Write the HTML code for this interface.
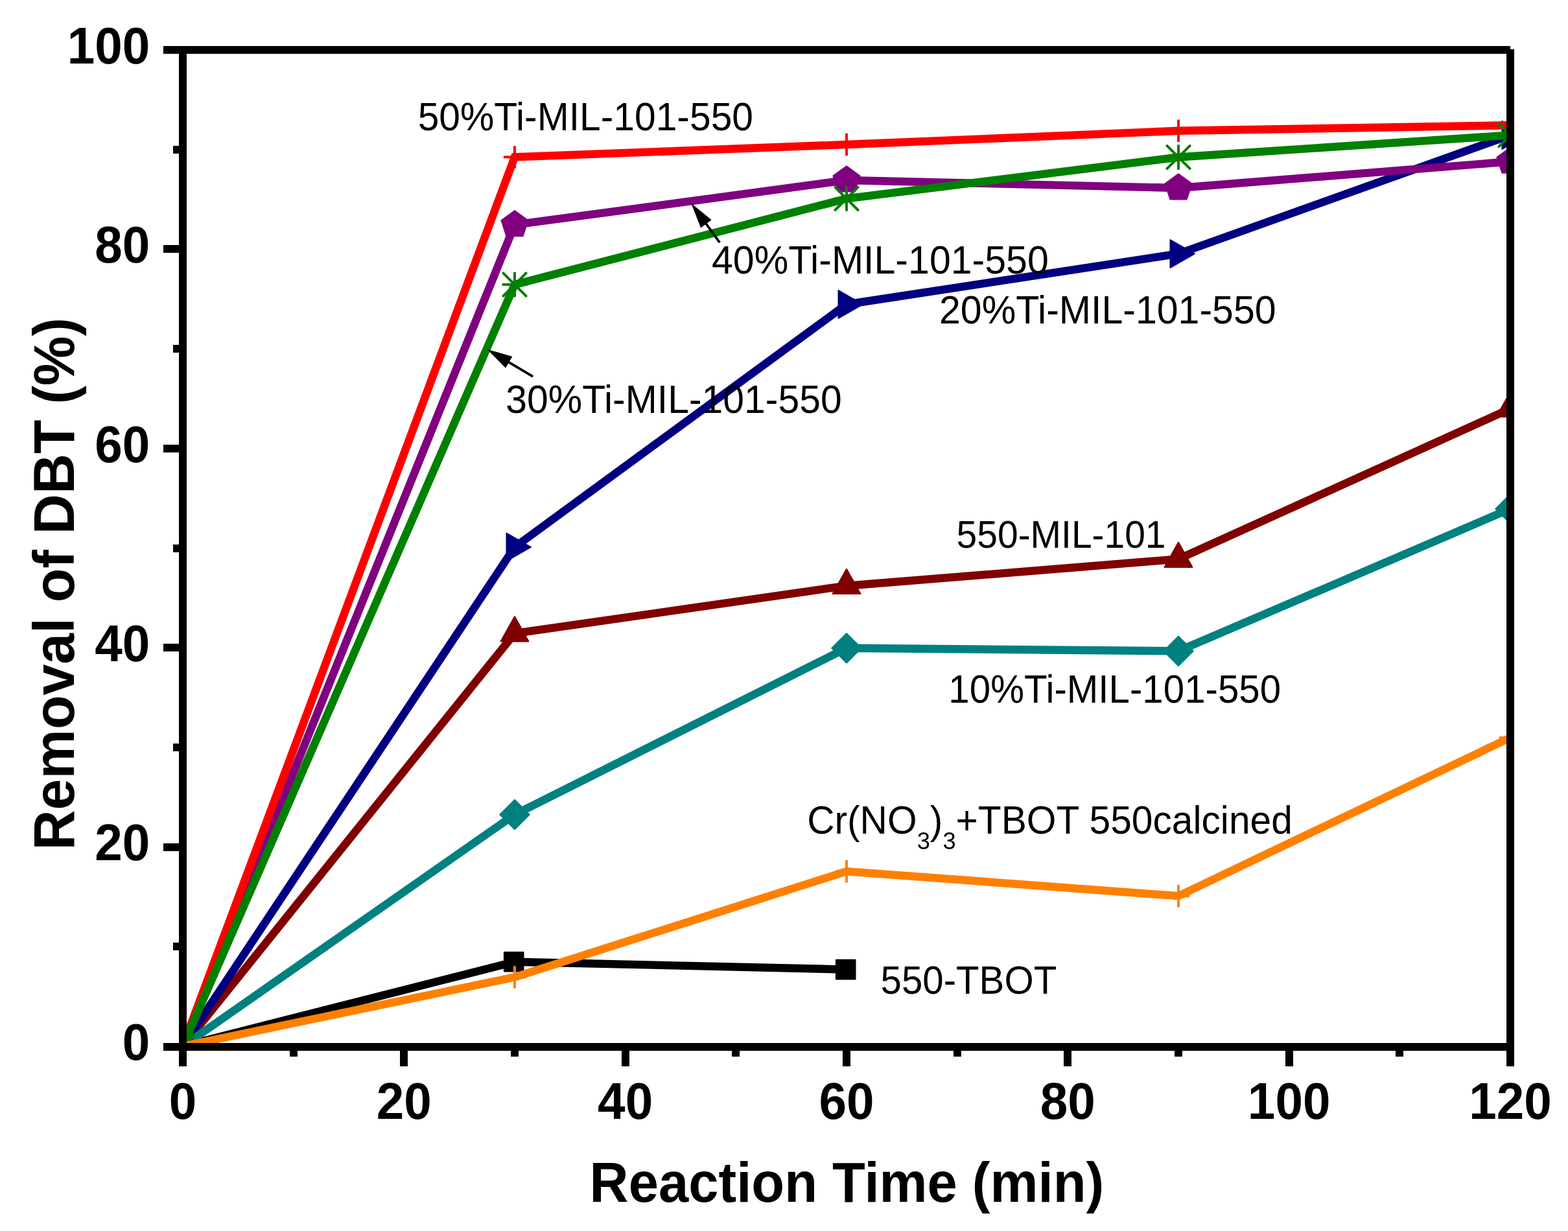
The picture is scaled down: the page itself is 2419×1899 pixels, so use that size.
<!DOCTYPE html><html><head><meta charset="utf-8"><style>html,body{margin:0;padding:0;background:#fff;}svg{display:block;}text{font-family:"Liberation Sans",Arial,sans-serif;}</style></head><body>
<svg width="2419" height="1899" viewBox="0 0 2419 1899">
<rect width="2419" height="1899" fill="#fff"/>
<defs><clipPath id="pa"><rect x="282" y="77" width="2048" height="1538"/></clipPath></defs>
<g clip-path="url(#pa)">
<path d="M282 1614 L794 1483.7 L1306 1495.6" stroke="#000000" stroke-width="12.4" fill="none" stroke-linejoin="miter" stroke-miterlimit="3"/>
<rect x="265.9" y="1599.2" width="29.6" height="29.6" fill="#000000" stroke="#000000" stroke-width="2" stroke-linejoin="round"/>
<rect x="777.9" y="1468.9" width="29.6" height="29.6" fill="#000000" stroke="#000000" stroke-width="2" stroke-linejoin="round"/>
<rect x="1289.9" y="1480.8" width="29.6" height="29.6" fill="#000000" stroke="#000000" stroke-width="2" stroke-linejoin="round"/>
<path d="M282 1614 L794 977 L1306 903.7 L1818 862.5 L2330 630.5" stroke="#800000" stroke-width="12.4" fill="none" stroke-linejoin="miter" stroke-miterlimit="3"/>
<polygon points="282,1588 260.5,1626.4 303.5,1626.4" fill="#800000" stroke="#800000" stroke-width="2" stroke-linejoin="round"/>
<polygon points="794,951 772.5,989.4 815.5,989.4" fill="#800000" stroke="#800000" stroke-width="2" stroke-linejoin="round"/>
<polygon points="1306,877.7 1284.5,916.1 1327.5,916.1" fill="#800000" stroke="#800000" stroke-width="2" stroke-linejoin="round"/>
<polygon points="1818,836.5 1796.5,874.9 1839.5,874.9" fill="#800000" stroke="#800000" stroke-width="2" stroke-linejoin="round"/>
<polygon points="2330,604.5 2308.5,642.9 2351.5,642.9" fill="#800000" stroke="#800000" stroke-width="2" stroke-linejoin="round"/>
<path d="M282 1614 L794 844 L1306 469.5 L1818 391.5 L2330 208.4" stroke="#000080" stroke-width="12.4" fill="none" stroke-linejoin="miter" stroke-miterlimit="3"/>
<polygon points="269.5,1592.5 269.5,1635.5 307,1614" fill="#000080" stroke="#000080" stroke-width="2" stroke-linejoin="round"/>
<polygon points="781.5,822.5 781.5,865.5 819,844" fill="#000080" stroke="#000080" stroke-width="2" stroke-linejoin="round"/>
<polygon points="1293.5,448 1293.5,491 1331,469.5" fill="#000080" stroke="#000080" stroke-width="2" stroke-linejoin="round"/>
<polygon points="1805.5,370 1805.5,413 1843,391.5" fill="#000080" stroke="#000080" stroke-width="2" stroke-linejoin="round"/>
<polygon points="2317.5,186.9 2317.5,229.9 2355,208.4" fill="#000080" stroke="#000080" stroke-width="2" stroke-linejoin="round"/>
<path d="M282 1614 L794 1256.6 L1306 999.8 L1818 1004.3 L2330 785" stroke="#008080" stroke-width="12.4" fill="none" stroke-linejoin="miter" stroke-miterlimit="3"/>
<polygon points="282,1591.5 304.5,1614 282,1636.5 259.5,1614" fill="#008080" stroke="#008080" stroke-width="2.4" stroke-linejoin="round"/>
<polygon points="794,1234.1 816.5,1256.6 794,1279.1 771.5,1256.6" fill="#008080" stroke="#008080" stroke-width="2.4" stroke-linejoin="round"/>
<polygon points="1306,977.3 1328.5,999.8 1306,1022.3 1283.5,999.8" fill="#008080" stroke="#008080" stroke-width="2.4" stroke-linejoin="round"/>
<polygon points="1818,981.8 1840.5,1004.3 1818,1026.8 1795.5,1004.3" fill="#008080" stroke="#008080" stroke-width="2.4" stroke-linejoin="round"/>
<polygon points="2330,762.5 2352.5,785 2330,807.5 2307.5,785" fill="#008080" stroke="#008080" stroke-width="2.4" stroke-linejoin="round"/>
<path d="M282 1614 L794 346.7 L1306 278 L1818 290 L2330 249.3" stroke="#800080" stroke-width="12.4" fill="none" stroke-linejoin="miter" stroke-miterlimit="3"/>
<polygon points="282,1592.4 302.54,1607.33 294.7,1631.47 269.3,1631.47 261.46,1607.33" fill="#800080" stroke="#800080" stroke-width="2" stroke-linejoin="round"/>
<polygon points="794,325.1 814.54,340.03 806.7,364.17 781.3,364.17 773.46,340.03" fill="#800080" stroke="#800080" stroke-width="2" stroke-linejoin="round"/>
<polygon points="1306,256.4 1326.54,271.33 1318.7,295.47 1293.3,295.47 1285.46,271.33" fill="#800080" stroke="#800080" stroke-width="2" stroke-linejoin="round"/>
<polygon points="1818,268.4 1838.54,283.33 1830.7,307.47 1805.3,307.47 1797.46,283.33" fill="#800080" stroke="#800080" stroke-width="2" stroke-linejoin="round"/>
<polygon points="2330,227.7 2350.54,242.63 2342.7,266.77 2317.3,266.77 2309.46,242.63" fill="#800080" stroke="#800080" stroke-width="2" stroke-linejoin="round"/>
<path d="M282 1614 L794 242.3 L1306 223 L1818 201.8 L2330 193.3" stroke="#FF0000" stroke-width="12.4" fill="none" stroke-linejoin="miter" stroke-miterlimit="3"/>
<rect x="280" y="1596.8" width="4" height="34.4" fill="#FF0000"/><rect x="264.8" y="1612" width="34.4" height="4" fill="#FF0000"/>
<rect x="792" y="225.1" width="4" height="34.4" fill="#FF0000"/><rect x="776.8" y="240.3" width="34.4" height="4" fill="#FF0000"/>
<rect x="1304" y="205.8" width="4" height="34.4" fill="#FF0000"/><rect x="1288.8" y="221" width="34.4" height="4" fill="#FF0000"/>
<rect x="1816" y="184.6" width="4" height="34.4" fill="#FF0000"/><rect x="1800.8" y="199.8" width="34.4" height="4" fill="#FF0000"/>
<rect x="2328" y="176.1" width="4" height="34.4" fill="#FF0000"/><rect x="2312.8" y="191.3" width="34.4" height="4" fill="#FF0000"/>
<path d="M282 1614 L794 439 L1306 306.4 L1818 242.5 L2330 208.5" stroke="#008000" stroke-width="12.4" fill="none" stroke-linejoin="miter" stroke-miterlimit="3"/>
<path d="M282 1594.7V1633.3M262.7 1614H301.3" stroke="#008000" stroke-width="4" fill="none"/><path d="M264.4 1596.4L299.6 1631.6M299.6 1596.4L264.4 1631.6" stroke="#008000" stroke-width="4" stroke-linecap="round" fill="none"/>
<path d="M794 419.7V458.3M774.7 439H813.3" stroke="#008000" stroke-width="4" fill="none"/><path d="M776.4 421.4L811.6 456.6M811.6 421.4L776.4 456.6" stroke="#008000" stroke-width="4" stroke-linecap="round" fill="none"/>
<path d="M1306 287.1V325.7M1286.7 306.4H1325.3" stroke="#008000" stroke-width="4" fill="none"/><path d="M1288.4 288.8L1323.6 324M1323.6 288.8L1288.4 324" stroke="#008000" stroke-width="4" stroke-linecap="round" fill="none"/>
<path d="M1818 223.2V261.8M1798.7 242.5H1837.3" stroke="#008000" stroke-width="4" fill="none"/><path d="M1800.4 224.9L1835.6 260.1M1835.6 224.9L1800.4 260.1" stroke="#008000" stroke-width="4" stroke-linecap="round" fill="none"/>
<path d="M2330 189.2V227.8M2310.7 208.5H2349.3" stroke="#008000" stroke-width="4" fill="none"/><path d="M2312.4 190.9L2347.6 226.1M2347.6 190.9L2312.4 226.1" stroke="#008000" stroke-width="4" stroke-linecap="round" fill="none"/>
<path d="M282 1614 L794 1507.4 L1306 1344.2 L1818 1382.3 L2330 1138" stroke="#FF8000" stroke-width="12.4" fill="none" stroke-linejoin="miter" stroke-miterlimit="3"/>
<rect x="280" y="1596.8" width="4" height="34.4" fill="#FF8000"/><rect x="264.8" y="1612" width="34.4" height="4" fill="#FF8000"/>
<rect x="792" y="1490.2" width="4" height="34.4" fill="#FF8000"/><rect x="776.8" y="1505.4" width="34.4" height="4" fill="#FF8000"/>
<rect x="1304" y="1327" width="4" height="34.4" fill="#FF8000"/><rect x="1288.8" y="1342.2" width="34.4" height="4" fill="#FF8000"/>
<rect x="1816" y="1365.1" width="4" height="34.4" fill="#FF8000"/><rect x="1800.8" y="1380.3" width="34.4" height="4" fill="#FF8000"/>
<rect x="2328" y="1120.8" width="4" height="34.4" fill="#FF8000"/><rect x="2312.8" y="1136" width="34.4" height="4" fill="#FF8000"/>
</g>
<rect x="252" y="71" width="2078" height="12" fill="#000"/>
<rect x="2324" y="76" width="12" height="1569" fill="#000"/>
<rect x="276" y="71" width="12" height="1574" fill="#000"/>
<rect x="252" y="1609" width="2078" height="12" fill="#000"/>
<rect x="267" y="1454" width="9" height="12" fill="#000"/>
<rect x="252" y="1301" width="24" height="12" fill="#000"/>
<rect x="267" y="1147" width="9" height="12" fill="#000"/>
<rect x="252" y="993" width="24" height="12" fill="#000"/>
<rect x="267" y="840" width="9" height="12" fill="#000"/>
<rect x="252" y="686" width="24" height="12" fill="#000"/>
<rect x="267" y="532" width="9" height="12" fill="#000"/>
<rect x="252" y="378" width="24" height="12" fill="#000"/>
<rect x="267" y="225" width="9" height="12" fill="#000"/>
<rect x="447" y="1621" width="12" height="9" fill="#000"/>
<rect x="617" y="1621" width="12" height="24" fill="#000"/>
<rect x="788" y="1621" width="12" height="9" fill="#000"/>
<rect x="959" y="1621" width="12" height="24" fill="#000"/>
<rect x="1129" y="1621" width="12" height="9" fill="#000"/>
<rect x="1300" y="1621" width="12" height="24" fill="#000"/>
<rect x="1471" y="1621" width="12" height="9" fill="#000"/>
<rect x="1641" y="1621" width="12" height="24" fill="#000"/>
<rect x="1812" y="1621" width="12" height="9" fill="#000"/>
<rect x="1983" y="1621" width="12" height="24" fill="#000"/>
<rect x="2153" y="1621" width="12" height="9" fill="#000"/>
<text transform="translate(231.38,1634.8) scale(1,1.0407)" font-size="76.5" font-weight="bold" text-anchor="end">0</text>
<text transform="translate(231.38,1327.4) scale(1,1.0407)" font-size="76.5" font-weight="bold" text-anchor="end">20</text>
<text transform="translate(231.38,1020) scale(1,1.0407)" font-size="76.5" font-weight="bold" text-anchor="end">40</text>
<text transform="translate(231.38,712.6) scale(1,1.0407)" font-size="76.5" font-weight="bold" text-anchor="end">60</text>
<text transform="translate(231.38,405.2) scale(1,1.0407)" font-size="76.5" font-weight="bold" text-anchor="end">80</text>
<text transform="translate(231.38,97.8) scale(1,1.0407)" font-size="76.5" font-weight="bold" text-anchor="end">100</text>
<text transform="translate(282,1726.3) scale(1,1.0407)" font-size="76.5" font-weight="bold" text-anchor="middle">0</text>
<text transform="translate(623.33,1726.3) scale(1,1.0407)" font-size="76.5" font-weight="bold" text-anchor="middle">20</text>
<text transform="translate(964.67,1726.3) scale(1,1.0407)" font-size="76.5" font-weight="bold" text-anchor="middle">40</text>
<text transform="translate(1306,1726.3) scale(1,1.0407)" font-size="76.5" font-weight="bold" text-anchor="middle">60</text>
<text transform="translate(1647.33,1726.3) scale(1,1.0407)" font-size="76.5" font-weight="bold" text-anchor="middle">80</text>
<text transform="translate(1988.67,1726.3) scale(1,1.0407)" font-size="76.5" font-weight="bold" text-anchor="middle">100</text>
<text transform="translate(2330,1726.3) scale(1,1.0407)" font-size="76.5" font-weight="bold" text-anchor="middle">120</text>
<text transform="translate(909.61,1853.9) scale(1,1.0407)" font-size="83.2" font-weight="bold">Reaction Time (min)</text>
<text transform="translate(114,1311.48) rotate(-90) scale(1,1.0407)" font-size="86.0" font-weight="bold">Removal of DBT (%)</text>
<text transform="translate(644.65,201) scale(1,1.0407)" font-size="58.81">50%Ti-MIL-101-550</text>
<text transform="translate(1098,421.8) scale(1,1.0407)" font-size="59.08">40%Ti-MIL-101-550</text>
<text transform="translate(1448.95,499.2) scale(1,1.0407)" font-size="59.07">20%Ti-MIL-101-550</text>
<text transform="translate(780.36,637.3) scale(1,1.0407)" font-size="58.91">30%Ti-MIL-101-550</text>
<text transform="translate(1463.37,1083.8) scale(1,1.0407)" font-size="58.28">10%Ti-MIL-101-550</text>
<text transform="translate(1475.62,844.9) scale(1,1.0407)" font-size="56.97">550-MIL-101</text>
<text transform="translate(1358.57,1532.8) scale(1,1.0407)" font-size="58.21">550-TBOT</text>
<text transform="translate(1245.16,1286) scale(1,1.0407)" font-size="58.7">Cr(NO<tspan font-size="36.3" dy="23.5">3</tspan><tspan dy="-23.5">)</tspan><tspan font-size="36.3" dy="23.5">3</tspan><tspan dy="-23.5">+TBOT 550calcined</tspan></text>
<line x1="1110.3" y1="374.1" x2="1088.24" y2="343.74" stroke="#000" stroke-width="3.7"/><polygon points="1066.2,313.4 1097.71,339.33 1081.12,351.38" fill="#000"/>
<line x1="822.1" y1="580.8" x2="783.44" y2="557.85" stroke="#000" stroke-width="3.7"/><polygon points="751.2,538.7 790.4,550.05 779.93,567.68" fill="#000"/>
</svg></body></html>
